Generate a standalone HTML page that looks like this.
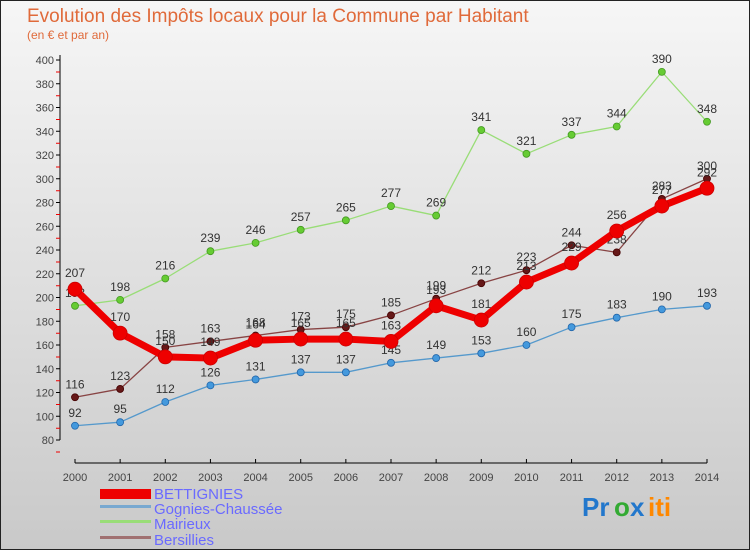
<!DOCTYPE html>
<html><head><meta charset="utf-8"><style>
body{margin:0;padding:0}
#c{width:750px;height:550px;position:relative;font-family:"Liberation Sans",sans-serif}
</style></head><body>
<div id="c">
<svg id="s" width="750" height="550" xmlns="http://www.w3.org/2000/svg">
<defs><linearGradient id="bg" x1="0" y1="0" x2="0" y2="1"><stop offset="0" stop-color="#f6f6f6"/><stop offset="1" stop-color="#c9c9c9"/></linearGradient></defs>
<rect x="0.5" y="0.5" width="749" height="549" fill="url(#bg)" stroke="#222"/>
<text x="27" y="22" font-size="19" fill="#e06a3a">Evolution des Impôts locaux pour la Commune par Habitant</text>
<text x="27" y="39" font-size="12" fill="#e06a3a">(en € et par an)</text>
<g id="axes"></g><g id="plot"></g>
<g font-size="15" fill="#6a6aff">
<rect x="100" y="489" width="51" height="10" fill="#ee0000"/>
<text x="154" y="499">BETTIGNIES</text>
<rect x="100" y="505" width="51" height="3" fill="#78a8d0"/>
<text x="154" y="514">Gognies-Chaussée</text>
<rect x="100" y="520" width="51" height="3" fill="#99dd77"/>
<text x="154" y="529">Mairieux</text>
<rect x="100" y="536" width="51" height="3" fill="#a07070"/>
<text x="154" y="545">Bersillies</text>
</g>
<g font-size="26" font-weight="bold">
<text x="582" y="516" fill="#2277cc">Pr</text><text x="614" y="516" fill="#33aa33">o</text><text x="630" y="516" fill="#2277cc">x</text><text x="648" y="516" fill="#ff8800">iti</text>
</g>
</svg></div>
<script>
const years=[2000,2001,2002,2003,2004,2005,2006,2007,2008,2009,2010,2011,2012,2013,2014];
const bettignies=[207,170,150,149,164,165,165,163,193,181,213,229,256,277,292];
const gognies=[92,95,112,126,131,137,137,145,149,153,160,175,183,190,193];
const mairieux=[193,198,216,239,246,257,265,277,269,341,321,337,344,390,348];
const bersillies=[116,123,158,163,168,173,175,185,199,212,223,244,238,283,300];
const yTicks=[80,100,120,140,160,180,200,220,240,260,280,300,320,340,360,380,400];
const NS="http://www.w3.org/2000/svg";
const xS=i=>75+i*(707-75)/14;
const yS=v=>440-(v-80)*(380/320);
function mk(t,a,p){const e=document.createElementNS(NS,t);for(const k in a)e.setAttribute(k,a[k]);p.appendChild(e);return e;}
const ax=document.getElementById('axes'),pl=document.getElementById('plot');
const ya=mk('line',{x1:60,y1:55,x2:60,y2:440,stroke:'#000'},ax);


yTicks.forEach(v=>{
 mk('line',{x1:56,y1:yS(v),x2:60,y2:yS(v),stroke:'#000'},ax);
 mk('line',{x1:56,y1:yS(v)+12,x2:60,y2:yS(v)+12,stroke:'#e00'},ax);
 const t=mk('text',{x:54,y:yS(v)+4,'text-anchor':'end','font-size':11,fill:'#444'},ax);t.textContent=v;
 
 
});
const xa=mk('line',{x1:75,y1:463,x2:707,y2:463,stroke:'#000'},ax);


years.forEach((y,i)=>{
 mk('line',{x1:xS(i),y1:459,x2:xS(i),y2:463,stroke:'#000'},ax);
 const t=mk('text',{x:xS(i),y:481,'text-anchor':'middle','font-size':11,fill:'#444'},ax);t.textContent=y;
 
 
});
function series(name,data,color,w,r,dot,stroke){
 const g=mk('g',{},pl);
 
 
 mk('polyline',{points:data.map((v,i)=>xS(i)+','+yS(v)).join(' '),fill:'none',stroke:color,'stroke-width':w,'stroke-linejoin':'round'},g);
 data.forEach((v,i)=>{
  const c=mk('circle',{cx:xS(i),cy:yS(v),r:r,fill:dot,stroke:stroke,'stroke-width':0.8},g);
  
  
  const t=mk('text',{x:xS(i),y:yS(v)-9-(r>5?3:0),'text-anchor':'middle','font-size':12,fill:'#333'},g);t.textContent=v;
  
  
 });
}
series('mairieux',mairieux,'#99dd77',1.3,3.5,'#66cc33','#449922');
series('gognies',gognies,'#5599cc',1.3,3.5,'#4499dd','#2266aa');
series('bersillies',bersillies,'#884444',1.3,3.5,'#661818','#440000');
series('bettignies',bettignies,'#ee0000',7,7,'#ee0000','#cc0000');
</script>
</body></html>
